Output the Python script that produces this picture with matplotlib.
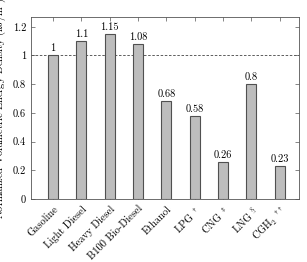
import matplotlib
matplotlib.use("Agg")
import matplotlib.pyplot as plt
import matplotlib.ticker as mtick

plt.rcParams["font.family"] = "serif"
plt.rcParams["font.serif"] = ["cmr10", "DejaVu Serif"]
plt.rcParams["mathtext.fontset"] = "cm"
plt.rcParams["axes.unicode_minus"] = False

fuels = ["Gasoline", "Light Diesel", "Heavy Diesel", "B100 Bio-Diesel", "Ethanol",
         r"LPG $^\dagger$", r"CNG $^\ddagger$", r"LNG $^\S$", r"CGH$_2$ $^{\dagger\dagger}$"]
density = [1.0, 1.1, 1.15, 1.08, 0.68, 0.58, 0.26, 0.8, 0.23]
value_labels = ["1", "1.1", "1.15", "1.08", "0.68", "0.58", "0.26", "0.8", "0.23"]
y_ticks = [0, 0.2, 0.4, 0.6, 0.8, 1.0, 1.2]

fig = plt.figure(figsize=(3.07, 2.62), dpi=100)
ax = fig.add_axes((0.101, 0.2405, 0.873, 0.6945))

x = list(range(len(fuels)))
ax.bar(x, density, width=0.35, color="#bdbdbd", edgecolor="#505050", linewidth=0.8, zorder=2)

# reference line at gasoline = 1
ax.axhline(1.0, color="#444444", linestyle=(0, (3, 2)), linewidth=0.6, zorder=1)

for xi, v, lab in zip(x, density, value_labels):
    ax.text(xi, v + 0.015, lab, ha="center", va="bottom", fontsize=7.5)

ax.set_xlim(-0.78, 8.68)
ax.set_ylim(0, 1.268)
ax.set_xticks(x)
ax.set_xticklabels(fuels, rotation=45, ha="right", rotation_mode="anchor", fontsize=7.5)
ax.set_yticks(y_ticks)
ax.yaxis.set_major_formatter(mtick.FuncFormatter(lambda v, p: f"{v:g}"))
ax.tick_params(axis="y", labelsize=7.5)
ax.tick_params(direction="in", length=3, width=0.5, top=True, right=True, color="#555555")
for s in ax.spines.values():
    s.set_linewidth(0.6)
    s.set_color("#555555")

# label sits partly outside the canvas, as in the original
ax.set_ylabel("Normalized Volumetric Energy Density (kJ/m$^3$)", fontsize=7.5)
ax.yaxis.set_label_coords(-0.085, 0.5)

fig.savefig("out.png", dpi=100)
